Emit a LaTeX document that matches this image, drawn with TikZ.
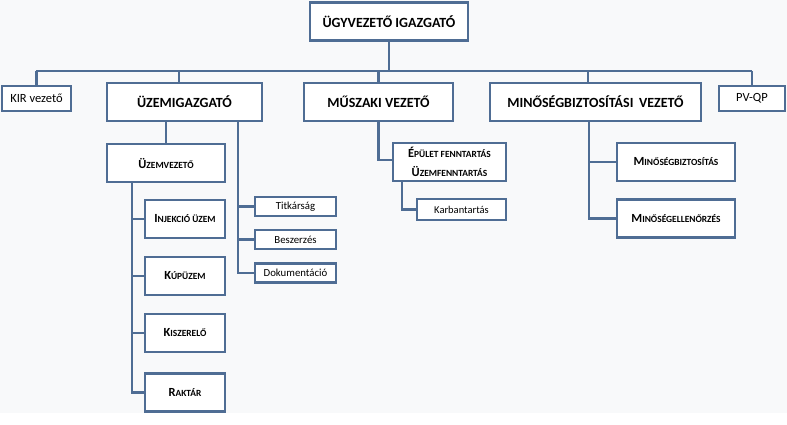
\documentclass[tikz,border=0pt]{standalone}
\usepackage{fontspec}
\setmainfont{Carlito}
\definecolor{bc}{RGB}{79,109,148}
\definecolor{bg}{RGB}{248,249,250}
\newcommand\smc[2]{#1{\fontsize{9.4}{10}\selectfont #2}}
\tikzset{
  box/.style={draw=bc, line width=2.3pt, fill=white, inner sep=0pt, align=center, text=black},
  big/.style={box, minimum height=38pt, font=\fontsize{14}{16}\selectfont\bfseries},
  sml/.style={box, font=\fontsize{10.8}{12}\selectfont},
  scb/.style={box, minimum height=38pt, font=\fontsize{12.4}{13}\selectfont\bfseries},
  con/.style={draw=bc, line width=2.3pt}
}
\begin{document}
\begin{tikzpicture}[x=1pt,y=-1pt]
\fill[bg] (0,0) rectangle (787,413);
\fill[white] (0,413.5) rectangle (787,424);
\useasboundingbox (0,0) rectangle (787,424);

\coordinate (busL) at (36,71);
\coordinate (busR) at (752,71);
\coordinate (ub) at (238,273);
\coordinate (vb) at (132,392.5);
\coordinate (mb) at (589,218.5);

\node[big, minimum width=158pt] (top) at (389,21.5) {ÜGYVEZETŐ IGAZGATÓ};
\node[box, minimum width=69pt, minimum height=25pt, font=\fontsize{12.5}{14}\selectfont] (kir) at (36.5,98.5) {KIR vezető};
\node[big, minimum width=155pt] (uzemig) at (184.5,102) {ÜZEMIGAZGATÓ};
\node[big, minimum width=149pt] (musz) at (378.5,102) {MŰSZAKI VEZETŐ};
\node[big, minimum width=211pt] (minv) at (595.5,102) {MINŐSÉGBIZTOSÍTÁSI\, VEZETŐ};
\node[box, minimum width=66pt, minimum height=25pt, font=\fontsize{12.5}{14}\selectfont] (pv) at (752,98.5) {PV-QP};

\node[scb, minimum width=118pt] (uzemv) at (166,163) {\smc{Ü}{ZEMVEZETŐ}};
\node[scb, minimum width=80pt] (inj) at (185,219) {\smc{I}{NJEKCIÓ ÜZEM}};
\node[scb, minimum width=80pt] (kup) at (185,276) {\smc{K}{ÚPÜZEM}};
\node[scb, minimum width=80pt] (kisz) at (185,333) {\smc{K}{ISZERELŐ}};
\node[scb, minimum width=80pt] (rakt) at (185,392.5) {\smc{R}{AKTÁR}};

\node[sml, minimum width=81pt, minimum height=19pt] (titk) at (295.5,206.5) {Titkárság};
\node[sml, minimum width=81pt, minimum height=19pt] (besz) at (295.5,239.5) {Beszerzés};
\node[sml, minimum width=81pt, minimum height=19pt] (dok) at (295.5,273) {Dokumentáció};

\node[scb, minimum width=113pt, font=\fontsize{12.4}{19}\selectfont\bfseries] (epulet) at (449.5,162) {\smc{É}{PÜLET FENNTARTÁS}\\\smc{Ü}{ZEMFENNTARTÁS}};
\node[sml, minimum width=89pt, minimum height=21pt, font=\fontsize{10.5}{12}\selectfont] (karb) at (461.5,209.5) {Karbantartás};

\node[scb, minimum width=118pt] (mbiz) at (676,162) {\smc{M}{INŐSÉGBIZTOSÍTÁS}};
\node[scb, minimum width=118pt] (mell) at (676,218.5) {\smc{M}{INŐSÉGELLENŐRZÉS}};

% connectors
\draw[con] (top.south) -- (top.south |- busL);
\draw[con] (busL) -- (busR);
\draw[con] (kir.north) -- (kir.north |- busL);
\draw[con] ([xshift=-5.5pt]uzemig.north) -- ([xshift=-5.5pt]uzemig.north |- busL);
\draw[con] (musz.north) -- (musz.north |- busL);
\draw[con] ([xshift=-7.5pt]minv.north) -- ([xshift=-7.5pt]minv.north |- busL);
\draw[con] (pv.north) -- (pv.north |- busL);

\draw[con] (uzemig.south -| uzemv.north) -- (uzemv.north);
\draw[con] (uzemig.south -| ub) -- (ub) -- (dok.west);
\draw[con] (titk.west) -- (titk.west -| ub);
\draw[con] (besz.west) -- (besz.west -| ub);

\draw[con] (uzemv.south -| vb) -- (vb) -- (rakt.west);
\draw[con] (inj.west) -- (inj.west -| vb);
\draw[con] (kup.west) -- (kup.west -| vb);
\draw[con] (kisz.west) -- (kisz.west -| vb);

\draw[con] (musz.south) |- ([yshift=2pt]epulet.west);
\draw[con] ([xshift=-47.5pt]epulet.south) |- (karb.west);

\draw[con] (minv.south -| mb) -- (mb) -- (mell.west);
\draw[con] (mbiz.west) -- (mbiz.west -| mb);
\end{tikzpicture}
\end{document}
